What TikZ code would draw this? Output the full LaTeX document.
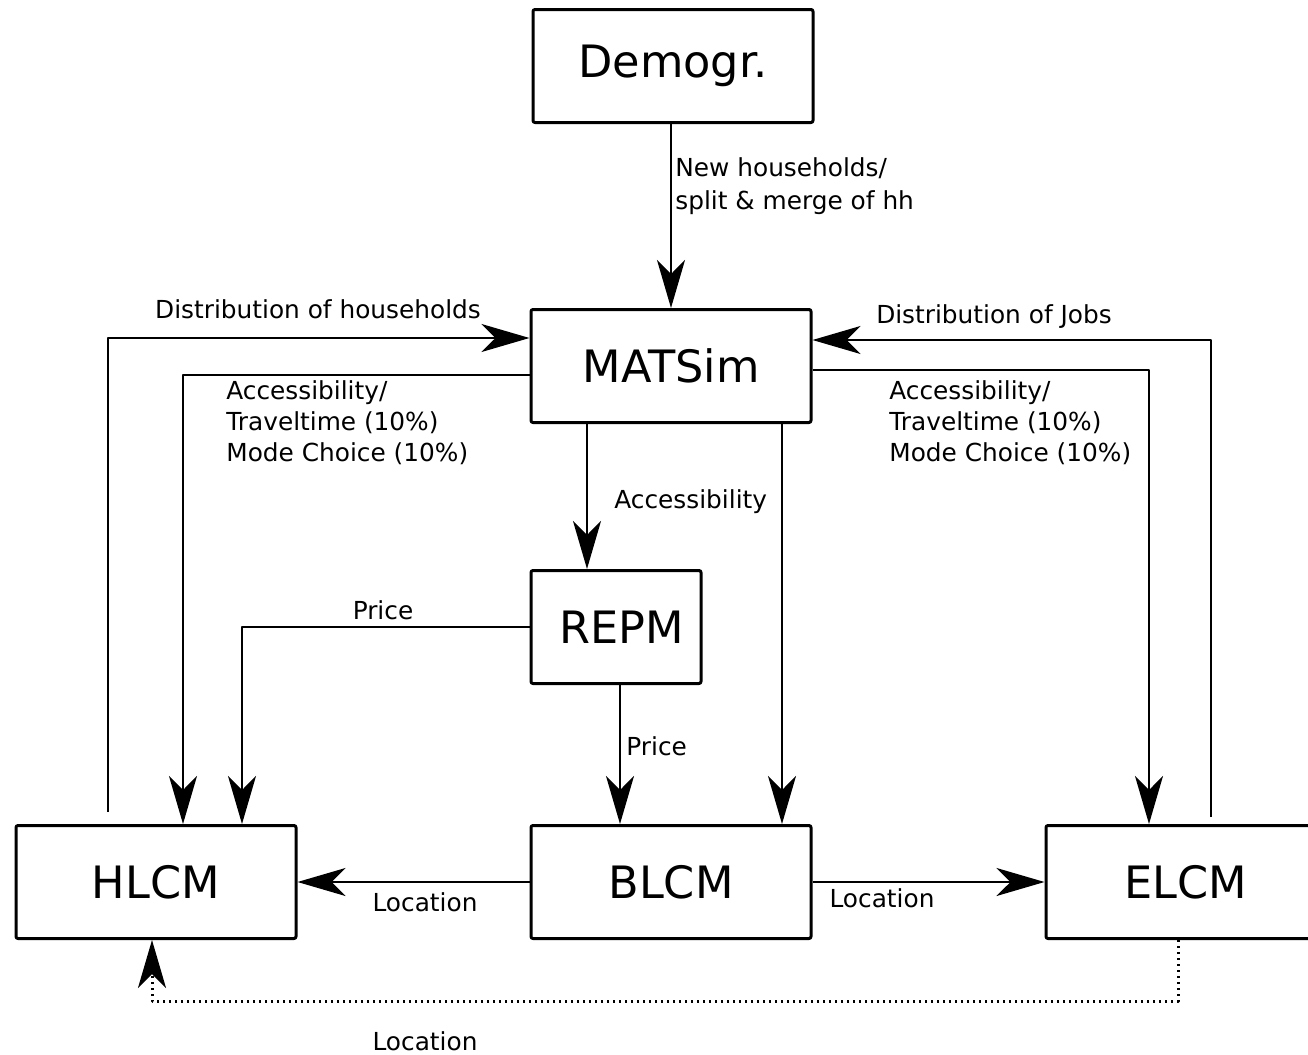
\documentclass[tikz,border=0pt]{standalone}
\usepackage{fontspec}
\setmainfont{DejaVu Sans}
\usetikzlibrary{arrows.meta, calc}

\begin{document}
\begin{tikzpicture}[line cap=butt,line join=round,x=0.5pt,y=-0.5pt,
    model/.style={draw=black, line width=1.5pt, rounded corners=1pt, minimum width=140pt, minimum height=56.5pt, inner sep=0pt, font=\fontsize{22.3}{26}\selectfont},
    flow/.style={line width=1pt, -{Stealth[length=24pt, width=14pt, inset=7pt]}},
    lbl/.style={inner sep=0pt, align=left, font=\fontsize{12.4}{15.5}\selectfont}]
    \clip (0,0) rectangle (1308,1055);

    % Models
    \draw (673,66) node[model] (Demogr) {Demogr.};
    \draw (671,366) node[model] (MATSim) {MATSim};
    \draw (616,627) node[model, minimum width=85pt] (REPM) {\hspace*{6pt}REPM};
    \draw (156,882) node[model] (HLCM) {HLCM};
    \draw (671,882) node[model] (BLCM) {BLCM};
    \draw (1186,882) node[model] (ELCM) {ELCM};

    % Edges
    \draw[flow] ([xshift=-1pt]Demogr.south) -- (MATSim.north);
    \draw[flow] ([xshift=-24pt,yshift=6pt]HLCM.north) |- ([yshift=14pt]MATSim.west);
    \draw[flow] ([yshift=-4.5pt]MATSim.west) -| ([xshift=13.5pt]HLCM.north);
    \draw[flow] ([xshift=12.5pt,yshift=3.5pt]ELCM.north) |- ([yshift=13pt]MATSim.east);
    \draw[flow] ([yshift=-2pt]MATSim.east) -| ([xshift=-18.5pt]ELCM.north);
    \draw[flow] ([xshift=-42pt]MATSim.south) -- ([xshift=-14.5pt]REPM.north);
    \draw[flow] ([xshift=55.5pt]MATSim.south) -- ([xshift=55.5pt]BLCM.north);
    \draw[flow] (REPM.west) -| ([xshift=43pt]HLCM.north);
    \draw[flow] ([xshift=2pt]REPM.south) -- ([xshift=-25.5pt]BLCM.north);
    \draw[flow] (BLCM.west) -- (HLCM.east);
    \draw[flow] (BLCM.east) -- (ELCM.west);
    % dotted return to HLCM
    \draw[flow, dotted, line width=1.5pt] ([xshift=-4pt]ELCM.south) -- ++(0,61) -| ([xshift=-2pt]HLCM.south);

    % Labels
    \node[lbl, anchor=west] (newhh) at (675,186) {New households/\\[1pt]split \& merge of hh};
    \node[lbl] (disthh) at (318,309) {Distribution of households};
    \node[lbl] (distjobs) at (994,317) {Distribution of Jobs};
    \node[lbl, anchor=west] (accleft) at (226,423) {Accessibility/\\Traveltime (10\%)\\Mode Choice (10\%)};
    \node[lbl, anchor=west] (accright) at (889,423) {Accessibility/\\Traveltime (10\%)\\Mode Choice (10\%)};
    \node[lbl, anchor=west] (acc) at (614,502) {Accessibility};
    \node[lbl] (priceleft) at (383,610) {Price};
    \node[lbl, anchor=west] (pricebl) at (626,746) {Price};
    \node[lbl] (lochl) at (425,902) {Location};
    \node[lbl] (locel) at (882,898) {Location};
    \node[lbl] (locdot) at (425,1041) {Location};
\end{tikzpicture}
\end{document}
